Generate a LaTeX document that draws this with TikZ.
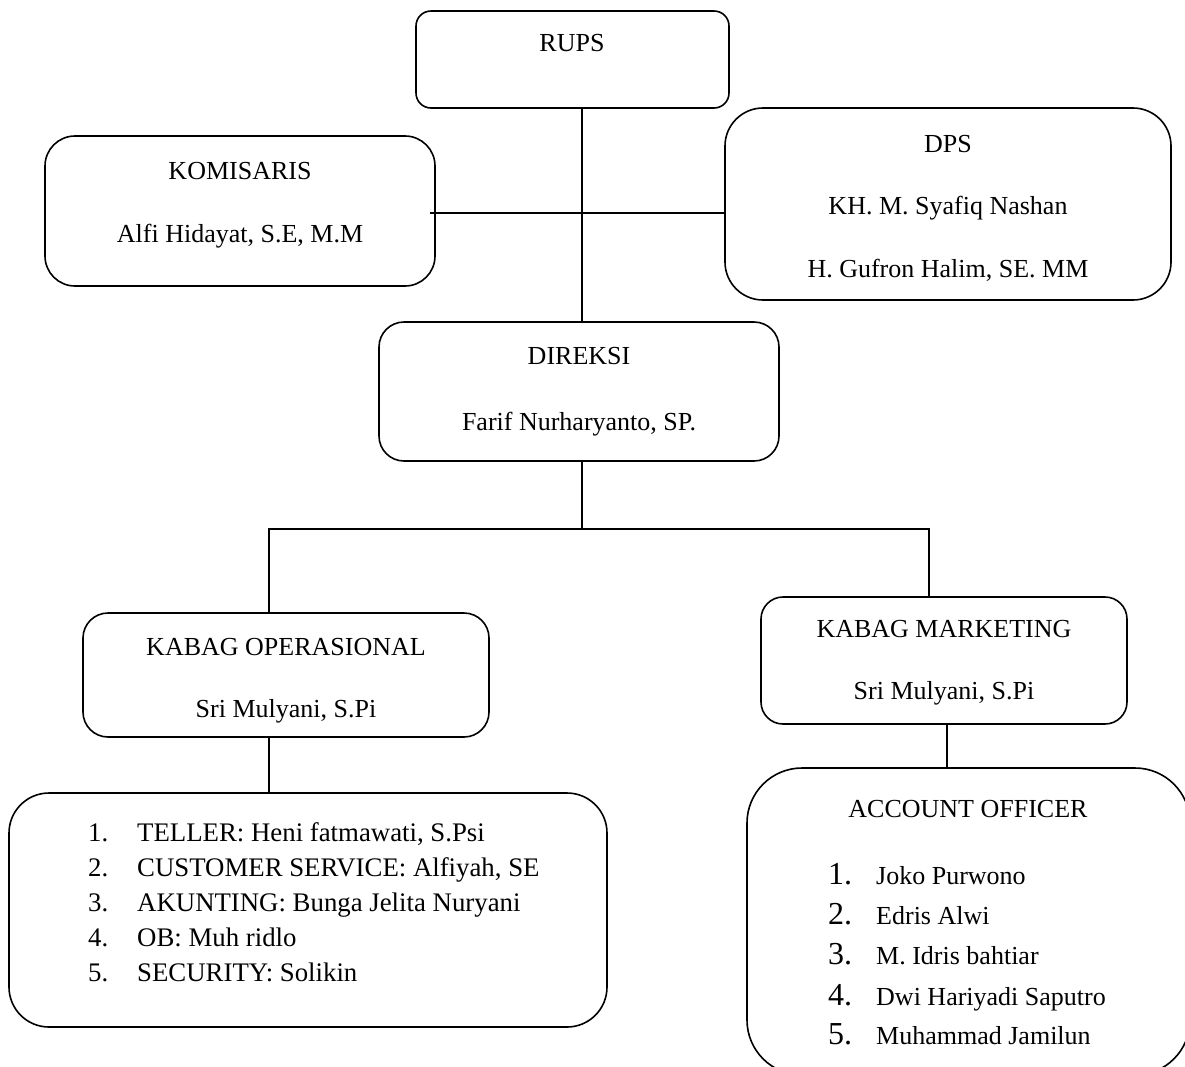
\documentclass[tikz,border=0pt]{standalone}
\usepackage{fontspec}
\setmainfont{Liberation Serif}
\begin{document}
\begin{tikzpicture}[x=1pt,y=-1pt,
  box/.style={draw, line width=1.6pt, rounded corners=#1, inner sep=0pt},
  txt/.style={anchor=base, inner sep=0pt, font=\fontsize{26}{31}\selectfont},
  ltxt/.style={anchor=base west, inner sep=0pt, font=\fontsize{26}{31}\selectfont},
  optxt/.style={anchor=base west, inner sep=0pt, font=\fontsize{26.8}{32}\selectfont},
  bignum/.style={anchor=base west, inner sep=0pt, font=\fontsize{32}{38}\selectfont},
  conn/.style={line width=1.6pt}]
\fill[white] (0,0) rectangle (1185,1066);
\useasboundingbox (0,0) rectangle (1185,1066);
\clip (0,0) rectangle (1185,1066);

% boxes
\node[box=15pt, minimum width=313pt, minimum height=97pt] (rups) at (572.5,59.5) {};
\node[box=30pt, minimum width=390pt, minimum height=150pt] (kom) at (240,211) {};
\node[box=38pt, minimum width=446pt, minimum height=192pt] (dps) at (948,204) {};
\node[box=25pt, minimum width=400pt, minimum height=139pt] (direksi) at (579,391.5) {};
\node[box=25pt, minimum width=406pt, minimum height=124pt] (kop) at (286,675) {};
\node[box=22pt, minimum width=366pt, minimum height=127pt] (kmk) at (944,660.5) {};
\node[box=40pt, minimum width=598pt, minimum height=234pt] (listop) at (308,910) {};
\node[box=55pt, minimum width=443pt, minimum height=307pt] (ao) at (968.5,921.5) {};

% texts
\node[txt] (trups) at (572,51) {RUPS};
\node[txt] (tkom1) at (240,179) {KOMISARIS};
\node[txt] (tkom2) at (240,242) {Alfi Hidayat, S.E, M.M};
\node[txt] (tdps1) at (948,152) {DPS};
\node[txt] (tdps2) at (948,214) {KH. M. Syafiq Nashan};
\node[txt] (tdps3) at (948,277) {H. Gufron Halim, SE. MM};
\node[txt] (tdir1) at (579,364) {DIREKSI};
\node[txt] (tdir2) at (579,430) {Farif Nurharyanto, SP.};
\node[txt] (top1) at (286,655) {KABAG OPERASIONAL};
\node[txt] (top2) at (286,717) {Sri Mulyani, S.Pi};
\node[txt] (tmk1) at (944,637) {KABAG MARKETING};
\node[txt] (tmk2) at (944,699) {Sri Mulyani, S.Pi};

% operational list
\node[optxt] (on1) at (88,841) {1.};
\node[optxt] (on2) at (88,876) {2.};
\node[optxt] (on3) at (88,911) {3.};
\node[optxt] (on4) at (88,946) {4.};
\node[optxt] (on5) at (88,981) {5.};
\node[optxt] (ol1) at (137,841) {TELLER: Heni fatmawati, S.Psi};
\node[optxt] (ol2) at (137,876) {CUSTOMER SERVICE: Alfiyah, SE};
\node[optxt] (ol3) at (137,911) {AKUNTING: Bunga Jelita Nuryani};
\node[optxt] (ol4) at (137,946) {OB: Muh ridlo};
\node[optxt] (ol5) at (137,981) {SECURITY: Solikin};

% account officer list
\node[txt] (tao) at (968,817) {ACCOUNT OFFICER};
\node[bignum] (an1) at (828,884) {1.};
\node[bignum] (an2) at (828,924) {2.};
\node[bignum] (an3) at (828,964) {3.};
\node[bignum] (an4) at (828,1005) {4.};
\node[bignum] (an5) at (828,1044) {5.};
\node[ltxt] (al1) at (876,884) {Joko Purwono};
\node[ltxt] (al2) at (876,924) {Edris Alwi};
\node[ltxt] (al3) at (876,964) {M. Idris bahtiar};
\node[ltxt] (al4) at (876,1005) {Dwi Hariyadi Saputro};
\node[ltxt] (al5) at (876,1044) {Muhammad Jamilun};

% connectors
\coordinate (spine) at (582,213);
\coordinate (komR) at ([xshift=-6pt]kom.east);
\draw[conn] (rups.south -| spine) -- (direksi.north -| spine);
\draw[conn] (komR |- spine) -- (dps.west |- spine);
\coordinate (bus) at (582,529);
\coordinate (opx) at (269,0);
\coordinate (mkx) at (929,0);
\coordinate (aox) at (947,0);
\draw[conn] (direksi.south -| bus) -- (bus);
\draw[conn] (kop.north -| opx) -- (opx |- bus) -- (mkx |- bus) -- (kmk.north -| mkx);
\draw[conn] (kop.south -| opx) -- (listop.north -| opx);
\draw[conn] (kmk.south -| aox) -- (ao.north -| aox);
\end{tikzpicture}
\end{document}
